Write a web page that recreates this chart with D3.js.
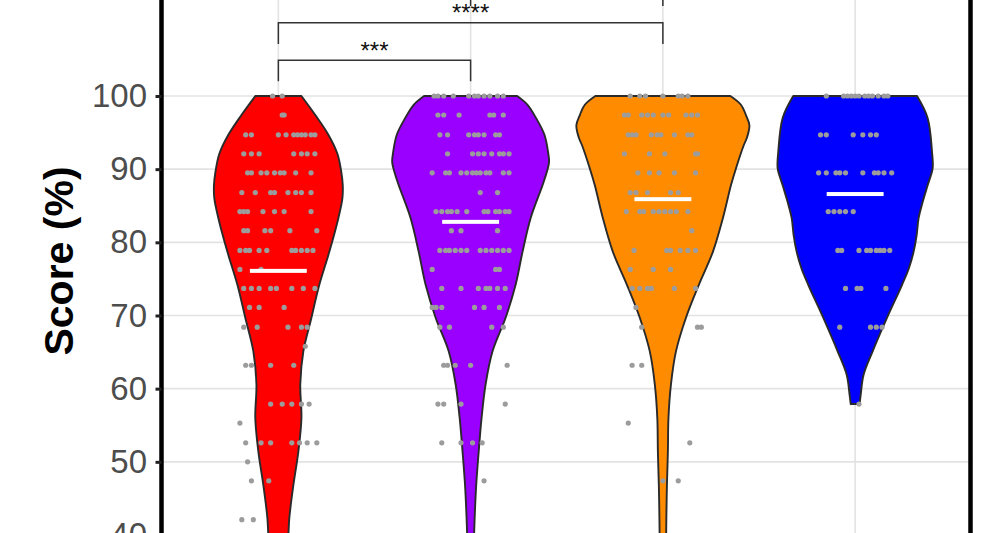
<!DOCTYPE html>
<html>
<head>
<meta charset="utf-8">
<script src="https://cdn.jsdelivr.net/npm/d3@7"></script>
<style>
  html, body { margin: 0; padding: 0; background: #fff; }
  svg { display: block; }
</style>
</head>
<body>
<svg id="chart" width="1000" height="533"></svg>
<script>
// ---------------- DATA ----------------
const categories = ["Group 1", "Group 2", "Group 3", "Group 4"];
const fillColors = ["#FF0000", "#9900FF", "#FF8C00", "#0000FF"];
const meanScores = [76.1, 82.8, 85.9, 86.6];
const yTicks = [40, 50, 60, 70, 80, 90, 100];

// violin half-widths: [score, half width in % of the category step]
const redViolin = [[100,12],[97.4,19.2],[94.7,26],[92.1,30.7],[89.5,32.8],[87.8,33.5],[86,33.3],[83.3,31.2],[78.7,26.5],[74.2,21.3],[69.7,17.2],[65.1,13],[60.6,11.4],[56,12],[51.4,10.4],[46.8,7.8],[42.3,5.7],[40,5.2],[35,3.6],[30,2]];
const purpleViolin = [[100,24.2],[98.8,29.6],[97,34],[94.7,38.4],[92.3,40.3],[91,40.8],[89.5,39.5],[87.8,37.4],[83.3,31.2],[78.7,27],[74.2,23.4],[69.7,18.2],[65.1,11.4],[60.6,7.8],[56,5.7],[51.4,4.2],[46.8,2.9],[42.3,2.1],[40,1.8],[35,1.3],[30,0.8]];
const orangeViolin = [[100,35.1],[98.8,40.6],[97.4,43.2],[96,45],[94.3,43.7],[93.3,42.1],[90.1,38],[87.8,35.4],[83.3,31.2],[78.7,26],[74.2,18.7],[69.7,12],[65.1,6.8],[60.6,4.2],[56,2.9],[51.4,2.6],[46.8,2.1],[42.3,1.8],[40,1.7],[35,1.3]];
const blueViolin = [[100,32.2],[97,37.7],[92.3,40],[90.1,40.3],[87.8,37.7],[85.5,35.1],[83.3,33],[81,32],[78.7,30.4],[76.5,28],[74.2,24.4],[69.7,16.6],[65.1,9.1],[61.9,4.4],[59.2,2.9],[57.9,2.3]];

// individual scores: [score, [horizontal jitter of each point, % of category step]]
const redPoints = [
  [100,[-3,2]],[97.4,[2,3]],[94.7,[-17,-14,0,4,8,10,12,14,17,19]],[92.1,[-18,-14,-10,8,12,15,19]],
  [89.5,[-16,-14,-9,-6,-2,1,3,9,17]],[86.8,[-19,-12,-4,-2,5,9,12,17]],[84.2,[-20,-18,-16,-8,-2,3,17]],
  [81.6,[-18,-16,-7,-4,6,20]],[78.9,[-20,-17,-15,-10,-6,7,9,12,15,18]],[76.3,[-20,-9]],
  [73.7,[-18,-14,-10,-4,-1,7,13,19]],[71.1,[-15,-10,3]],[68.4,[-18,-11,5,12,15]],[65.8,[14]],
  [63.2,[-17,-14,-4,8]],[57.9,[-4,2,7,12,16]],[55.3,[-20]],[52.6,[-17,-9,-4,7,11,15,20]],
  [50,[-16]],[47.4,[-14,-5]],[42.1,[-19,-13]]
];
const purplePoints = [
  [100,[-19,-17,-14,-9,-1,2,4,7,10,14,17]],[97.4,[-17,-14,-6,10,12,17]],[94.7,[-16,-12,-1,2,4,7,13,15]],
  [92.1,[-12,1,4,7,11,15,17,20]],[89.5,[-20,-13,-11,-5,-2,1,3,5,8,10,17,20]],[86.8,[5,14]],
  [84.2,[-18,-15,-12,-10,-7,-2,7,9,13,15,18,20]],[81.6,[-10,-5,14]],
  [78.9,[-16,-13,-11,-8,-5,-2,5,8,11,14,17,20]],[76.3,[-20,13,15]],[73.7,[-15,-5,4,8,10,14,18]],
  [71.1,[-20,-18,-15,2,7,15]],[68.4,[-16,-11,11,17]],[63.2,[-14,-12,-8,0,19]],[57.9,[-17,-14,-5,18]],
  [52.6,[-15,-5,1,6]],[47.4,[7]]
];
const orangePoints = [
  [100,[-17,-12,-9,0,8,10,13]],[97.4,[-20,-18,-11,-8,-5,0,3,12,15,18]],[94.7,[-18,-16,-14,-6,-3,-1,6,13,15]],
  [92.1,[-20,-7,1,17,18]],[89.5,[-13,-7,-2,6,17]],[86.8,[-17,-14,-8,4,8]],[84.2,[-19,-12,-10,-5,-2,1,4,7,13]],
  [81.6,[15]],[78.9,[-15,2,4,9,13,17]],[76.3,[-17,-5,4]],[73.7,[-16,-12,-8,-6,6,17]],[71.1,[-14]],
  [68.4,[-11,18,20]],[63.2,[-16,-11]],[55.3,[-18]],[52.6,[14]],[47.4,[0,8]]
];
const bluePoints = [
  [100,[-15,-6,-4,-2,0,2,5,7,9,12,15,17]],[94.7,[-18,-15,-1,4,8,11]],[89.5,[-19,-15,-10,-8,-5,4,10,12,15,19]],
  [84.2,[-14,-11,-8,-5,-1]],[78.9,[-9,-7,2,6,8,11,13,15,18]],[73.7,[-5,1,3,16]],[68.4,[-8,8,11,14]],[57.9,[2]]
];

// significance brackets: [from group, to group, label]
const comparisons = [[1, 2, "***"], [1, 3, "****"], [2, 3, ""]];
const bracketLevels = [104.9, 110.0, 115.2];
const bracketTip = 2.9;

const violins = [redViolin, purpleViolin, orangeViolin, blueViolin];
const pointSets = [redPoints, purplePoints, orangePoints, bluePoints];

// ---------------- CHART ----------------
const svg = d3.select("#chart");
const W = 1000, H = 533;
const x = d3.scaleLinear().domain([0.4, 4.6]).range([163, 970.5]);
const y = d3.scaleLinear().domain([40, 100]).range([535, 96]);
const FONT = "Arial, 'Liberation Sans', Helvetica, sans-serif";

svg.append("rect").attr("width", W).attr("height", H).attr("fill", "#fff");

// grid
const grid = svg.append("g");
grid.selectAll("line.h").data(yTicks).enter().append("line")
  .attr("x1", x(0.4)).attr("x2", x(4.6))
  .attr("y1", d => y(d)).attr("y2", d => y(d))
  .attr("stroke", "#E3E3E3").attr("stroke-width", 1.6);
grid.selectAll("line.v").data(categories).enter().append("line")
  .attr("x1", (d, i) => x(i + 1)).attr("x2", (d, i) => x(i + 1))
  .attr("y1", -20).attr("y2", H + 20)
  .attr("stroke", "#E3E3E3").attr("stroke-width", 1.6);

// violins
violins.forEach((prof, i) => {
  const c = i + 1;
  const area = d3.area()
    .y(d => y(d[0]))
    .x0(d => x(c - d[1] / 100))
    .x1(d => x(c + d[1] / 100))
    .curve(d3.curveCatmullRom.alpha(0.5));
  svg.append("path")
    .datum(prof)
    .attr("d", area)
    .attr("fill", fillColors[i])
    .attr("stroke", "#2a2a2a")
    .attr("stroke-width", 1.9)
    .attr("stroke-linejoin", "round");
});

// points
pointSets.forEach((set, i) => {
  const c = i + 1;
  const flat = [];
  set.forEach(([s, js]) => js.forEach(j => flat.push({ s, j })));
  svg.append("g").selectAll("circle").data(flat).enter().append("circle")
    .attr("cx", d => x(c + d.j / 100))
    .attr("cy", d => y(d.s))
    .attr("r", 2.6)
    .attr("fill", "#9C9C9C");
});

// mean bars
svg.append("g").selectAll("rect").data(meanScores).enter().append("rect")
  .attr("x", (d, i) => x(i + 1 - 0.148))
  .attr("width", (d, i) => x(i + 1 + 0.148) - x(i + 1 - 0.148))
  .attr("y", d => y(d) - 2)
  .attr("height", 4)
  .attr("fill", "#fff");

// brackets
const br = svg.append("g");
comparisons.forEach(([a, b, lab], k) => {
  const top = y(bracketLevels[k]);
  const bot = y(bracketLevels[k] - bracketTip);
  br.append("path")
    .attr("d", `M${x(a)},${bot}V${top}H${x(b)}V${bot}`)
    .attr("fill", "none").attr("stroke", "#333").attr("stroke-width", 1.5);
  if (lab) {
    br.append("text")
      .attr("x", (x(a) + x(b)) / 2).attr("y", top - 1.5)
      .attr("text-anchor", "middle")
      .attr("font-family", FONT).attr("font-size", 24)
      .attr("fill", "#111")
      .text(lab);
  }
});

// panel border
svg.append("rect")
  .attr("x", x(0.4) - 1.5).attr("y", -50)
  .attr("width", x(4.6) - x(0.4) + 1.5).attr("height", H + 100)
  .attr("fill", "none").attr("stroke", "#000").attr("stroke-width", 4.5);

// y axis
const axis = d3.axisLeft(y).tickValues(yTicks).tickSize(6).tickSizeOuter(0).tickPadding(8.5);
const ag = svg.append("g").attr("transform", `translate(${x(0.4) - 1.5},0)`).call(axis);
ag.select(".domain").remove();
ag.selectAll(".tick line").attr("stroke", "#222").attr("stroke-width", 3);
ag.selectAll(".tick text")
  .attr("font-family", FONT).attr("font-size", 33).attr("fill", "#4D4D4D");

// y label
svg.append("text")
  .attr("transform", "translate(73,261) rotate(-90)")
  .attr("text-anchor", "middle")
  .attr("font-family", FONT).attr("font-weight", "bold").attr("font-size", 41)
  .attr("fill", "#000")
  .text("Score (%)");
</script>
</body>
</html>
